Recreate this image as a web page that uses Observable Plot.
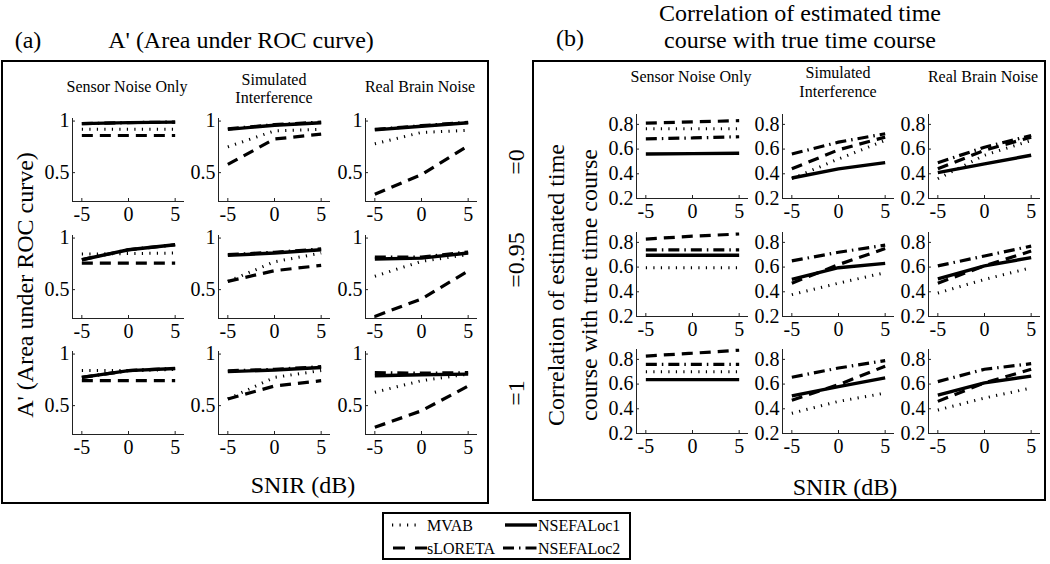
<!DOCTYPE html>
<html><head><meta charset="utf-8">
<script src="https://cdn.jsdelivr.net/npm/d3@7"></script>
<script src="https://cdn.jsdelivr.net/npm/@observablehq/plot@0.6"></script>
<style>
body{margin:0;background:#fff;}
#root{position:relative;width:1050px;height:564px;font-family:"Liberation Serif","Times New Roman",serif;color:#000;overflow:hidden;background:#fff}
.lbl{position:absolute;white-space:nowrap;line-height:1;transform:translate(-50%,-50%)}
.rot{transform:translate(-50%,-50%) rotate(-90deg)}
.box{position:absolute;border:2px solid #000;box-sizing:border-box}
svg.sub{position:absolute}
</style></head><body><div id="root"></div>
<script>
// ---------- data ----------
const snir = [-5, 0, 5];
const xTicks = [-5, 0, 5];
const methods = ["MVAB", "sLORETA", "NSEFALoc1", "NSEFALoc2"];
const noiseTypes = ["Sensor Noise Only", "Simulated\nInterference", "Real Brain Noise"];
const corrLabels = ["=0", "=0.95", "=1"];
const aTicksY = [0.5, 1];
const bTicksY = [0.2, 0.4, 0.6, 0.8];

// Panel (a): A' — [row: correlation level][col: noise type][snir]
const aMVAB = [
  [[0.92, 0.92, 0.92], [0.75, 0.905, 0.92], [0.78, 0.89, 0.91]],
  [[0.845, 0.85, 0.855], [0.58, 0.77, 0.855], [0.63, 0.774, 0.84]],
  [[0.84, 0.84, 0.85], [0.565, 0.774, 0.84], [0.63, 0.742, 0.806]]
];
const aSLORETA = [
  [[0.86, 0.86, 0.86], [0.58, 0.826, 0.873], [0.29, 0.48, 0.76]],
  [[0.758, 0.758, 0.758], [0.58, 0.684, 0.735], [0.24, 0.41, 0.68]],
  [[0.742, 0.742, 0.742], [0.565, 0.69, 0.742], [0.29, 0.45, 0.69]]
];
const aNSEFA1 = [
  [[0.975, 0.985, 0.99], [0.92, 0.96, 0.984], [0.915, 0.95, 0.984]],
  [[0.79, 0.887, 0.935], [0.832, 0.855, 0.887], [0.797, 0.806, 0.855]],
  [[0.774, 0.84, 0.86], [0.83, 0.845, 0.87], [0.79, 0.8, 0.806]]
];
const aNSEFA2 = [
  [[0.975, 0.985, 0.99], [0.925, 0.965, 0.99], [0.92, 0.955, 0.988]],
  [[0.79, 0.887, 0.935], [0.84, 0.862, 0.895], [0.815, 0.815, 0.865]],
  [[0.774, 0.84, 0.86], [0.838, 0.852, 0.878], [0.82, 0.815, 0.82]]
];

// Panel (b): correlation — [row][col][snir]
const bMVAB = [
  [[0.765, 0.765, 0.765], [0.36, 0.52, 0.67], [0.36, 0.55, 0.67]],
  [[0.595, 0.595, 0.595], [0.377, 0.47, 0.555], [0.39, 0.5, 0.595]],
  [[0.70, 0.70, 0.70], [0.364, 0.46, 0.527], [0.39, 0.487, 0.568]]
];
const bSLORETA = [
  [[0.81, 0.82, 0.83], [0.44, 0.594, 0.697], [0.44, 0.59, 0.697]],
  [[0.827, 0.85, 0.868], [0.47, 0.62, 0.75], [0.47, 0.61, 0.73]],
  [[0.827, 0.85, 0.874], [0.47, 0.595, 0.745], [0.46, 0.61, 0.72]]
];
const bNSEFA1 = [
  [[0.56, 0.563, 0.566], [0.366, 0.44, 0.49], [0.41, 0.48, 0.55]],
  [[0.696, 0.696, 0.696], [0.5, 0.595, 0.63], [0.505, 0.61, 0.677]],
  [[0.636, 0.636, 0.636], [0.505, 0.58, 0.65], [0.51, 0.61, 0.665]]
];
const bNSEFA2 = [
  [[0.683, 0.69, 0.70], [0.56, 0.656, 0.724], [0.49, 0.615, 0.71]],
  [[0.74, 0.74, 0.74], [0.65, 0.72, 0.778], [0.61, 0.69, 0.77]],
  [[0.76, 0.76, 0.76], [0.655, 0.73, 0.79], [0.62, 0.72, 0.765]]
];

// ---------- styles / layout ----------
const FONT = '"Liberation Serif","Times New Roman",serif';
const lineStyles = [
  {strokeWidth: 3, strokeDasharray: "1.2,6.3"},
  {strokeWidth: 3.2, strokeDasharray: "11,7"},
  {strokeWidth: 3.4},
  {strokeWidth: 3.2, strokeDasharray: "11,5,1.5,5"}
];
const root = document.getElementById("root");

function label(text, cx, cy, size, rot) {
  const d = document.createElement("div");
  d.className = "lbl" + (rot ? " rot" : "");
  d.style.left = cx + "px"; d.style.top = cy + "px"; d.style.fontSize = size + "px";
  d.textContent = text;
  root.appendChild(d);
}
function box(l, t, r, b) {
  const d = document.createElement("div");
  d.className = "box";
  Object.assign(d.style, {left: l + "px", top: t + "px", width: (r - l) + "px", height: (b - t) + "px"});
  root.appendChild(d);
}

function subplot(series, x0, y0, w, h, ydomain, yticks) {
  const rows = [];
  methods.forEach((m, i) => snir.forEach((s, j) => rows.push({method: m, snir: s, value: series[i][j]})));
  const ml = 45, mr = 8, mt = 8, mb = 34;
  const svg = Plot.plot({
    width: w + ml + mr, height: h + mt + mb,
    marginLeft: ml, marginRight: mr, marginTop: mt, marginBottom: mb,
    style: {background: "transparent", fontFamily: FONT, fontSize: "20px", color: "#000", overflow: "visible"},
    x: {domain: [-6, 6]},
    y: {domain: ydomain},
    marks: [
      Plot.axisX(xTicks, {tickSize: -3, tickPadding: 8, tickFormat: d => String(d), label: null, fontSize: 20, stroke: "#222"}),
      Plot.axisY(yticks, {tickSize: -3, tickPadding: 6, tickFormat: d => String(d), label: null, fontSize: 20, stroke: "#222"}),
      Plot.ruleX([-6], {stroke: "#222", strokeWidth: 1}),
      Plot.ruleY([ydomain[0]], {stroke: "#222", strokeWidth: 1}),
      ...methods.map((m, i) => Plot.line(rows.filter(d => d.method === m), {
        x: "snir", y: "value", stroke: "#000", strokeLinecap: "butt", strokeLinejoin: "miter", ...lineStyles[i]
      }))
    ]
  });
  svg.classList.add("sub");
  svg.style.left = (x0 - ml) + "px";
  svg.style.top = (y0 - mt) + "px";
  root.appendChild(svg);
}

// boxes
box(1, 60, 489, 504);
box(532, 60, 1046, 501);

// titles
label("(a)", 28, 40, 24);
label("A' (Area under ROC curve)", 241, 40, 24);
label("(b)", 570, 38, 24);
label("Correlation of estimated time", 800, 13, 24);
label("course with true time course", 800, 40, 24);

const aCols = [72, 218, 365], aRows = [118, 235, 351];
const bCols = [636, 782, 928], bRows = [114, 232, 349];
const W = 112;

// panel (a)
for (let r = 0; r < 3; r++) for (let c = 0; c < 3; c++) {
  subplot([aMVAB[r][c], aSLORETA[r][c], aNSEFA1[r][c], aNSEFA2[r][c]], aCols[c], aRows[r], W, 83, [0.22, 1.025], aTicksY);
}
// panel (b)
for (let r = 0; r < 3; r++) for (let c = 0; c < 3; c++) {
  subplot([bMVAB[r][c], bSLORETA[r][c], bNSEFA1[r][c], bNSEFA2[r][c]], bCols[c], bRows[r], W, 84, [0.2, 0.88], bTicksY);
}

// column titles
noiseTypes.forEach((t, c) => {
  const parts = t.split("\n");
  if (parts.length === 1) {
    label(parts[0], aCols[c] + 55, 87, 16);
    label(parts[0], bCols[c] + 55, 77, 16);
  } else {
    label(parts[0], aCols[c] + 56, 80, 16); label(parts[1], aCols[c] + 56, 98, 16);
    label(parts[0], bCols[c] + 56, 73, 16); label(parts[1], bCols[c] + 56, 92, 16);
  }
});

// axis titles
label("A' (Area under ROC curve)", 25, 285, 24, true);
label("Correlation of estimated time", 556, 285, 24, true);
label("course with true time course", 589, 285, 24, true);
label("SNIR (dB)", 303, 485, 24);
label("SNIR (dB)", 845, 487, 24);

// row labels
[162, 260, 393].forEach((y, r) => label(corrLabels[r], 516, y, 24, true));

// legend
(function legend() {
  const L = 382, T = 512, Wl = 249, Hl = 48;
  box(L, T, L + Wl, T + Hl);
  const ns = "http://www.w3.org/2000/svg";
  const svg = document.createElementNS(ns, "svg");
  svg.setAttribute("width", Wl); svg.setAttribute("height", Hl);
  svg.style.position = "absolute"; svg.style.left = L + "px"; svg.style.top = T + "px";
  const entries = [
    {i: 0, x1: 10, x2: 40, y: 13, tx: 45},
    {i: 2, x1: 123, x2: 155, y: 13, tx: 156},
    {i: 1, x1: 11, x2: 45, y: 36, tx: 45},
    {i: 3, x1: 121, x2: 156, y: 36, tx: 156}
  ];
  entries.forEach(e => {
    const ln = document.createElementNS(ns, "line");
    ln.setAttribute("x1", e.x1); ln.setAttribute("x2", e.x2);
    ln.setAttribute("y1", e.y); ln.setAttribute("y2", e.y);
    ln.setAttribute("stroke", "#000");
    ln.setAttribute("stroke-width", lineStyles[e.i].strokeWidth);
    if (lineStyles[e.i].strokeDasharray) ln.setAttribute("stroke-dasharray", e.i === 1 ? "12,10" : lineStyles[e.i].strokeDasharray);
    svg.appendChild(ln);
    const tx = document.createElementNS(ns, "text");
    tx.setAttribute("x", e.tx); tx.setAttribute("y", e.y + 6);
    tx.setAttribute("font-family", FONT); tx.setAttribute("font-size", 16);
    tx.textContent = methods[e.i];
    svg.appendChild(tx);
  });
  root.appendChild(svg);
})();
</script></body></html>
